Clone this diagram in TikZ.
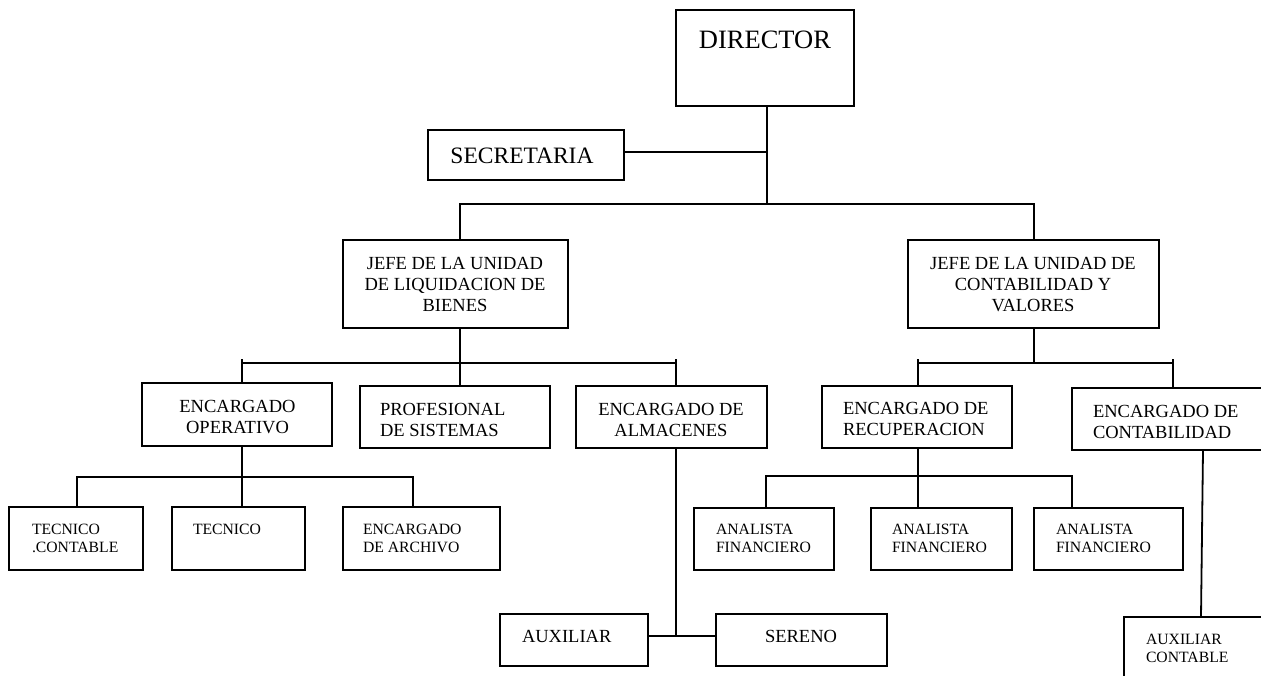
\documentclass[tikz,border=0pt]{standalone}
\usepackage{fontspec}
\setmainfont{Liberation Serif}
\begin{document}
\begin{tikzpicture}[x=1pt,y=-1pt,line width=1.8pt,
  box/.style={draw,line width=1.8pt,inner sep=0pt,outer sep=0pt,anchor=north west},
  tc/.style={anchor=north,inner sep=0pt,outer sep=0pt,align=center},
  tl/.style={anchor=north west,inner sep=0pt,outer sep=0pt,align=left},
  fXL/.style={font=\fontsize{26.5}{30}\selectfont},
  fL/.style={font=\fontsize{23.5}{27}\selectfont},
  fM/.style={font=\fontsize{18.5}{21}\selectfont},
  fS/.style={font=\fontsize{15.7}{18}\selectfont}]
\useasboundingbox (0,0) rectangle (1261,675);
\clip (0,0) rectangle (1261,675);

% boxes
\node[box,minimum width=178pt,minimum height=96pt] (dir) at (676,10) {};
\node[box,minimum width=196pt,minimum height=50pt] (sec) at (428,130) {};
\node[box,minimum width=225pt,minimum height=88pt] (jliq) at (343,240) {};
\node[box,minimum width=251pt,minimum height=88pt] (jcont) at (908,240) {};
\node[box,minimum width=190pt,minimum height=63pt] (oper) at (142,383) {};
\node[box,minimum width=190pt,minimum height=62pt] (prof) at (360,386) {};
\node[box,minimum width=191pt,minimum height=62pt] (alm) at (576,386) {};
\node[box,minimum width=190pt,minimum height=62pt] (ecrec) at (822,386) {};
\node[box,minimum width=202pt,minimum height=62pt] (eccont) at (1072,388) {};
\node[box,minimum width=134pt,minimum height=63pt] (tc) at (9,507) {};
\node[box,minimum width=133pt,minimum height=63pt] (tec) at (172,507) {};
\node[box,minimum width=157pt,minimum height=63pt] (arch) at (343,507) {};
\node[box,minimum width=140pt,minimum height=62pt] (a1) at (694,508) {};
\node[box,minimum width=141pt,minimum height=62pt] (a2) at (871,508) {};
\node[box,minimum width=149pt,minimum height=62pt] (a3) at (1034,508) {};
\node[box,minimum width=148pt,minimum height=52pt] (aux) at (500,614) {};
\node[box,minimum width=171pt,minimum height=52pt] (ser) at (716,614) {};
\node[box,minimum width=166pt,minimum height=83pt] (auxc) at (1124,617) {};

% junctions
\coordinate (jt) at (767,204);
\coordinate (js) at (767,152);
\coordinate (hL) at (460,363);
\coordinate (hR) at (1034,363);
\coordinate (hO) at (242,477);
\coordinate (hRc) at (918,476);
\coordinate (hA) at (676,636);

% connectors
\draw ([xshift=2pt]dir.south) -- (jt);
\draw ([yshift=3pt]sec.east) -- (js);
\draw ([xshift=4.5pt]jliq.north) |- (jt) -| ([xshift=.5pt]jcont.north);
\draw ([xshift=4.5pt]jliq.south) -- ([xshift=5pt]prof.north);
\draw ([xshift=5pt]oper.north) |- (hL) -| ([xshift=4.5pt]alm.north);
\draw ([xshift=5pt]oper.north) -- ++(0,-24);
\draw ([xshift=4.5pt]alm.north) -- ++(0,-27);
\draw ([xshift=.5pt]jcont.south) -- (hR);
\draw ([xshift=1pt]ecrec.north) |- (hR) -| (eccont.north);
\draw ([xshift=1pt]ecrec.north) -- ++(0,-27);
\draw (eccont.north) -- ++(0,-29);
\draw ([xshift=5pt]oper.south) -- (hO);
\draw ([xshift=1pt]tc.north) |- (hO) -| ([xshift=-8.5pt]arch.north);
\draw ([xshift=3.5pt]tec.north) -- (hO);
\draw ([xshift=1pt]ecrec.south) -- (hRc);
\draw ([xshift=2pt]a1.north) |- (hRc) -| ([xshift=-36.5pt]a3.north);
\draw ([xshift=-23.5pt]a2.north) -- (hRc);
\draw ([xshift=4.5pt]alm.south) -- (hA);
\draw ([yshift=4pt]aux.east) -- ([yshift=4pt]ser.west);
\draw ([xshift=30pt]eccont.south) -- ([xshift=-6pt]auxc.north);

% texts
\node[tc,fXL] (tdir) at (765,30.5) {DIRECTOR};
\node[tc,fL] (tsec) at (522,148) {SECRETARIA};
\node[tc,fM] (tjliq) at (455,257) {JEFE DE LA UNIDAD\\DE LIQUIDACION DE\\BIENES};
\node[tc,fM] (tjcont) at (1033,257) {JEFE DE LA UNIDAD DE\\CONTABILIDAD Y\\VALORES};
\node[tc,fM] (toper) at (237.5,400.5) {ENCARGADO\\OPERATIVO};
\node[tl,fM] (tprof) at (380,403) {PROFESIONAL\\DE SISTEMAS};
\node[tc,fM] (talm) at (671,403) {ENCARGADO DE\\ALMACENES};
\node[tl,fM] (trec) at (843,402) {ENCARGADO DE\\RECUPERACION};
\node[tl,fM] (tcont) at (1093,405) {ENCARGADO DE\\CONTABILIDAD};
\node[tl,fS] (ttc) at (32,524) {TECNICO\\.CONTABLE};
\node[tl,fS] (ttec) at (193,524) {TECNICO};
\node[tl,fS] (tarch) at (363,524) {ENCARGADO\\DE ARCHIVO};
\node[tl,fS] (ta1) at (716,524) {ANALISTA\\FINANCIERO};
\node[tl,fS] (ta2) at (892,524) {ANALISTA\\FINANCIERO};
\node[tl,fS] (ta3) at (1056,524) {ANALISTA\\FINANCIERO};
\node[tl,fM] (taux) at (522,630) {AUXILIAR};
\node[tc,fM] (tser) at (801,630) {SERENO};
\node[tl,fS] (tauxc) at (1146,634) {AUXILIAR\\CONTABLE};
\end{tikzpicture}
\end{document}
